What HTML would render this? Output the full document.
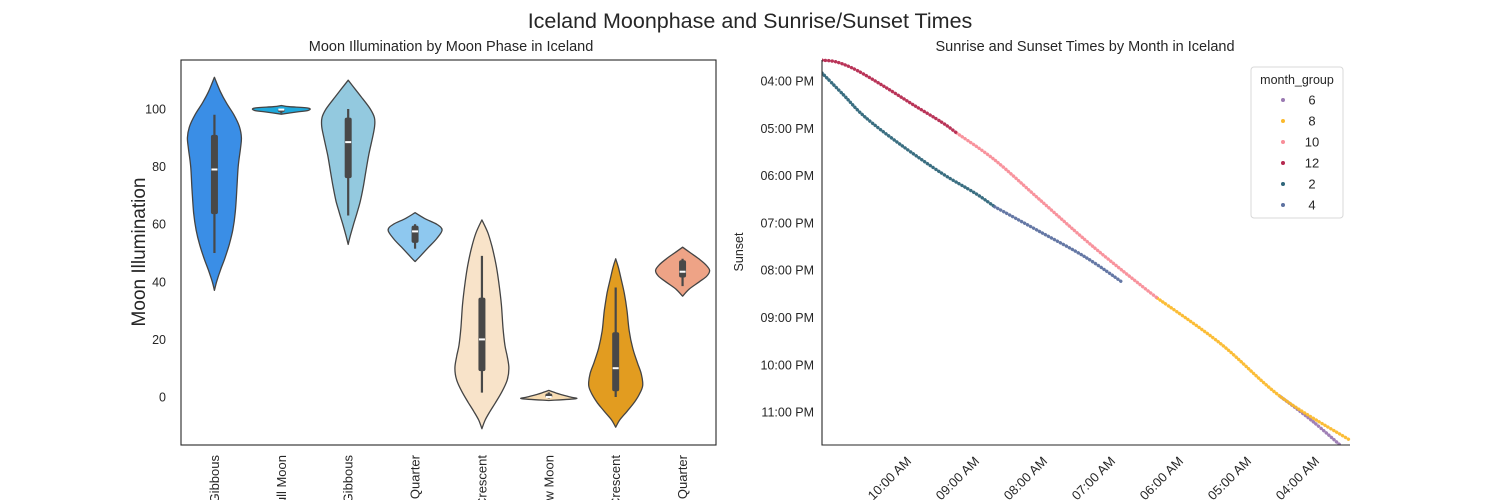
<!DOCTYPE html>
<html><head><meta charset="utf-8"><style>
html,body{margin:0;background:#fff;overflow:hidden;width:1500px;height:500px;}
svg{display:block;font-family:"Liberation Sans","DejaVu Sans",sans-serif;overflow:hidden;}
</style></head><body>
<svg id="fig" width="1500" height="500" viewBox="0 0 1500 500" xmlns="http://www.w3.org/2000/svg">
<defs><clipPath id="pageClip"><rect x="0" y="0" width="1500" height="500"/></clipPath></defs>
<rect width="1500" height="500" fill="#fff"/>
<text x="750" y="28" text-anchor="middle" font-size="21.5" fill="#262626">Iceland Moonphase and Sunrise/Sunset Times</text>
<g clip-path="url(#pageClip)">
<g id="left"></g>
<g id="right"></g>
</g>
</svg>
<script>
// ---- Violin chart data ----
const phases = ["Waxing Gibbous","Full Moon","Waning Gibbous","First Quarter","Waxing Crescent","New Moon","Waning Crescent","Last Quarter"];
const phaseColors = ["#3a8ee6","#1fa9dc","#93c9df","#8ec8ef","#f8e3c9","#f7dcb2","#e29c20","#eea386"];
const profiles = [
 [[37,0],[40,0.08],[44,0.22],[48,0.38],[53,0.55],[58,0.68],[64,0.77],[72,0.83],[80,0.88],[86,0.96],[90,1.0],[94,0.92],[98,0.72],[102,0.45],[106,0.22],[111,0]],
 [[98.2,0],[99,0.6],[99.5,1],[100.3,1],[100.8,0.3],[101.2,0]],
 [[53,0],[56,0.08],[60,0.2],[64,0.33],[68,0.45],[73,0.56],[78,0.65],[84,0.76],[90,0.9],[94,0.98],[97,0.97],[100,0.82],[104,0.5],[107,0.25],[110,0]],
 [[47,0],[49,0.2],[52,0.5],[55,0.8],[58,1],[60,0.8],[62,0.35],[64,0]],
 [[-11,0],[-8,0.12],[-5,0.3],[-2,0.5],[2,0.75],[6,0.94],[10,1],[14,0.94],[18,0.85],[24,0.78],[32,0.72],[40,0.62],[46,0.52],[52,0.38],[57,0.22],[61.5,0]],
 [[-1.2,0],[-0.6,1],[0,0.8],[1,0.4],[2.3,0]],
 [[-10.5,0],[-8,0.15],[-5,0.42],[-2,0.68],[1,0.88],[4,1],[8,0.95],[12,0.8],[17,0.63],[23,0.5],[30,0.42],[36,0.32],[41,0.2],[45,0.1],[48,0]],
 [[35,0],[37.5,0.25],[40,0.62],[42,0.9],[44,1],[46,0.85],[48,0.6],[50,0.3],[52,0]]
];
const q1s =    [63.5, 99, 76, 53.5, 9, -0.3, 2, 41.5];
const medians =[79, 99.8, 88.5, 57.5, 20, 0, 10, 43.5];
const q3s =    [91, 100, 97, 59.5, 34.5, 1.2, 22.5, 47.5];
const mins =   [50, 98.5, 63, 51.5, 1.5, -0.5, 0, 38.5];
const maxs =   [98, 100, 100, 60, 49, 1.6, 38, 48];
const yTicks = [0,20,40,60,80,100];

// ---- Scatter data (sunrise hour, sunset hour) ----
const groupLabels = ["6","8","10","12","2","4"];
const groupColors = ["#9a79b2","#fbb92c","#f88d98","#b5294f","#2f667a","#5d71a0"];
const sunrise6 = [4.47,4.0,3.56];
const sunset6  = [22.68,23.2,23.75];
const sunrise8 = [6.29,5.37,4.47,3.46];
const sunset8  = [20.59,21.54,22.68,23.59];
const sunrise10 = [9.24,8.68,8.01,7.35,6.81,6.29];
const sunset10  = [17.10,17.67,18.52,19.36,20.0,20.59];
const sunrise12 = [11.22,11.0,10.7,10.29,9.87,9.46,9.24];
const sunset12  = [15.56,15.6,15.78,16.13,16.51,16.87,17.10];
const sunrise2 = [11.22,10.9,10.59,10.06,9.46,8.97,8.68];
const sunset2  = [15.83,16.3,16.76,17.35,17.95,18.37,18.66];
const sunrise4 = [8.68,8.01,7.35,6.81];
const sunset4  = [18.66,19.19,19.72,20.25];
const xTickHours = [10,9,8,7,6,5,4];
const xTickLabels = ["10:00 AM","09:00 AM","08:00 AM","07:00 AM","06:00 AM","05:00 AM","04:00 AM"];
const yTickHours = [16,17,18,19,20,21,22,23];
const yTickLabels = ["04:00 PM","05:00 PM","06:00 PM","07:00 PM","08:00 PM","09:00 PM","10:00 PM","11:00 PM"];

const NS="http://www.w3.org/2000/svg";
function mk(tag, parent, attrs){const e=document.createElementNS(NS,tag);for(const k in attrs)e.setAttribute(k,attrs[k]);parent.appendChild(e);return e;}

// ---- Left chart ----
const L = document.getElementById('left');
const lx0=181, lx1=716, ly0=60, ly1=445;
const vy = v => 397 - v*2.88;
const cw = (lx1-lx0)/phases.length;
const cx = i => lx0 + cw*(i+0.5);
const maxHalf = 27;
let t = mk('text',L,{x:451,y:51,'text-anchor':'middle','font-size':14.5,fill:'#262626'}); t.textContent='Moon Illumination by Moon Phase in Iceland';


t = mk('text',L,{transform:'translate(145,252) rotate(-90)','text-anchor':'middle','font-size':19,fill:'#262626'}); t.textContent='Moon Illumination';


yTicks.forEach(v=>{
  const e=mk('text',L,{x:166,y:vy(v)+4.5,'text-anchor':'end','font-size':12.5,fill:'#262626'}); e.textContent=v;
  
  
});
function smoothPath(pts){
  let d='M'+pts[0][0].toFixed(1)+','+pts[0][1].toFixed(1);
  for(let i=0;i<pts.length-1;i++){
    const p0=pts[Math.max(0,i-1)],p1=pts[i],p2=pts[i+1],p3=pts[Math.min(pts.length-1,i+2)];
    const c1=[p1[0]+(p2[0]-p0[0])/6,p1[1]+(p2[1]-p0[1])/6];
    const c2=[p2[0]-(p3[0]-p1[0])/6,p2[1]-(p3[1]-p1[1])/6];
    d+=` C${c1[0].toFixed(1)},${c1[1].toFixed(1)} ${c2[0].toFixed(1)},${c2[1].toFixed(1)} ${p2[0].toFixed(1)},${p2[1].toFixed(1)}`;
  }
  return d;
}
phases.forEach((p,i)=>{
  const c=cx(i);
  const prof=profiles[i];
  const right=prof.map(([v,w])=>[c+w*maxHalf,vy(v)]);
  const left=prof.slice().reverse().map(([v,w])=>[c-w*maxHalf,vy(v)]);
  const d=smoothPath(right)+' L'+smoothPath(left).slice(1)+' Z';
  const g=mk('g',L,{});
  
  
  mk('path',g,{d:d,fill:phaseColors[i],stroke:'#444','stroke-width':1.3,'stroke-linejoin':'round'});
  mk('line',g,{x1:c,x2:c,y1:vy(maxs[i]),y2:vy(mins[i]),stroke:'#484848','stroke-width':2.2});
  mk('rect',g,{x:c-3.5,y:vy(q3s[i]),width:7,height:Math.max(1.5,vy(q1s[i])-vy(q3s[i])),rx:2,fill:'#484848'});
  mk('rect',g,{x:c-3,y:vy(medians[i])-1,width:6,height:2,fill:'#fff'});
  const lab=mk('text',L,{transform:`translate(${c+4.5},455) rotate(-90)`,'text-anchor':'end','font-size':13,fill:'#262626'}); lab.textContent=p;
  
  
});
const fr=mk('rect',L,{x:lx0,y:ly0,width:lx1-lx0,height:ly1-ly0,fill:'none',stroke:'#262626','stroke-width':1.1});



// ---- Right chart ----
const R=document.getElementById('right');
const rx0=822, rx1=1350, ry0=60, ry1=445;
const sx = h => 905 - (h-10)*68;
const sy = h => 81 + (h-16)*47.3;
t=mk('text',R,{x:1085,y:51,'text-anchor':'middle','font-size':14.5,fill:'#262626'}); t.textContent='Sunrise and Sunset Times by Month in Iceland';


t=mk('text',R,{transform:'translate(743,252) rotate(-90)','text-anchor':'middle','font-size':12.5,fill:'#262626'}); t.textContent='Sunset';


yTickHours.forEach((h,i)=>{
  const e=mk('text',R,{x:814,y:sy(h)+4.5,'text-anchor':'end','font-size':12.5,fill:'#262626'}); e.textContent=yTickLabels[i];
  
  
});
xTickHours.forEach((h,i)=>{
  const x=sx(h);
  const e=mk('text',R,{transform:`translate(${x+7},462) rotate(-45)`,'text-anchor':'end','font-size':13,fill:'#262626'}); e.textContent=xTickLabels[i];
  
  
});
mk('clipPath',R,{id:'clipR'}).appendChild(document.createElementNS(NS,'rect'));
const cr=R.querySelector('#clipR rect'); cr.setAttribute('x',rx0);cr.setAttribute('y',ry0-3);cr.setAttribute('width',rx1-rx0+3);cr.setAttribute('height',ry1-ry0+3);
const series=[[sunrise6,sunset6],[sunrise8,sunset8],[sunrise10,sunset10],[sunrise12,sunset12],[sunrise2,sunset2],[sunrise4,sunset4]];
const plotG=mk('g',R,{'clip-path':'url(#clipR)'});
series.forEach((s,i)=>{
  const pts=s[0].map((h,j)=>[sx(h),sy(s[1][j])]);
  const pl=mk('path',plotG,{d:smoothPath(pts),fill:'none',stroke:groupColors[i],'stroke-width':3.4,'stroke-linecap':'round','stroke-linejoin':'round','stroke-dasharray':'0.1 3.3',opacity:0.95});
  
  
});
const ax=mk('path',R,{d:`M${rx0},${ry0} V${ry1} H${rx1}`,fill:'none',stroke:'#262626','stroke-width':1.1});


// legend
const lg=mk('g',R,{});


mk('rect',lg,{x:1251,y:67,width:92,height:151,rx:3,fill:'#fff',stroke:'#d8d8d8','stroke-width':1});
t=mk('text',lg,{x:1297,y:84,'text-anchor':'middle','font-size':12.5,fill:'#262626'}); t.textContent='month_group';


groupLabels.forEach((g,i)=>{
  const y=100+i*21;
  const e=mk('g',lg,{});
  
  
  mk('circle',e,{cx:1283,cy:y,r:2,fill:groupColors[i]});
  const tx=mk('text',e,{x:1312,y:y+4.5,'text-anchor':'middle','font-size':13,fill:'#262626'}); tx.textContent=g;
});
</script>
</body></html>
